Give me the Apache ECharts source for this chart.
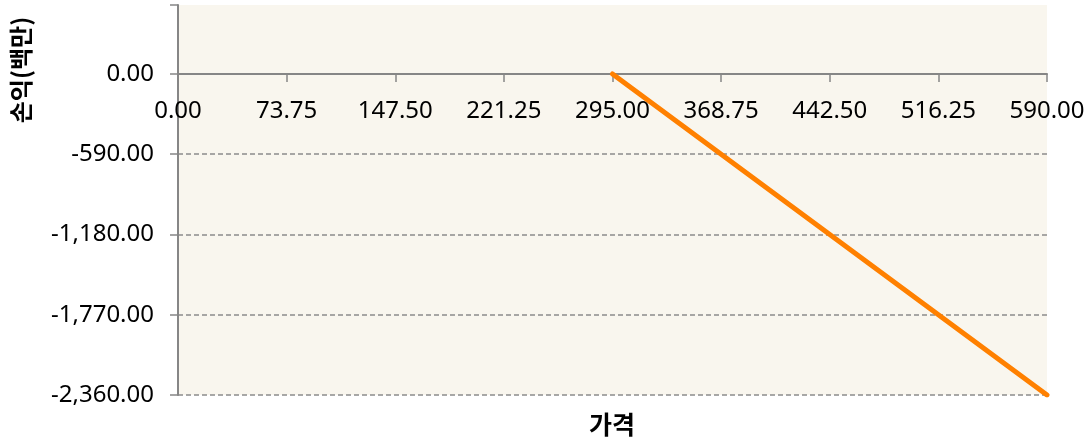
<!DOCTYPE html>
<html>
<head>
<meta charset="utf-8">
<script src="https://cdn.jsdelivr.net/npm/echarts@6/dist/echarts.min.js"></script>
<style>
html,body{margin:0;padding:0;background:#fff;}
#chart{width:1090px;height:448px;}
</style>
</head>
<body>
<div id="chart"></div>
<script>
// Data
var priceValues = [295, 368.75, 442.5, 516.25, 590];
var profitValues = [0, -590, -1180, -1770, -2360];
var xAxisTitle = '가격';
var yAxisTitle = '손익(백만)';
var xMin = 0, xMax = 590, xStep = 73.75;
var yMin = -2360, yMax = 507, yStep = 590;

var seriesData = priceValues.map(function (p, i) { return [p, profitValues[i]]; });

function fmt2(v) {
  return Number(v).toLocaleString('en-US', {minimumFractionDigits: 2, maximumFractionDigits: 2});
}

var numFont = '"Noto Sans", "DejaVu Sans", sans-serif';
var cjkFont = '"Noto Sans CJK KR", "Noto Sans", sans-serif';

var gridTop = 5, gridBottom = 53, chartH = 448;
var plotH = chartH - gridTop - gridBottom;
var zeroFromBottom = plotH * (0 - yMin) / (yMax - yMin);

var gray = '#8C8C8C';
var chart = echarts.init(document.getElementById('chart'));
chart.setOption({
  animation: false,
  backgroundColor: '#ffffff',
  grid: {
    left: 178, right: 43, top: gridTop, bottom: gridBottom,
    show: true, backgroundColor: '#F9F6EE', borderWidth: 0
  },
  xAxis: {
    type: 'value', min: xMin, max: xMax, interval: xStep,
    position: 'bottom', offset: -zeroFromBottom,
    axisLine: {show: true, onZero: false, lineStyle: {color: '#868686', width: 2}},
    axisTick: {show: true, inside: false, length: 8, lineStyle: {color: '#868686', width: 1.5}},
    axisLabel: {
      color: '#000', fontSize: 24, fontFamily: numFont, margin: 25,
      formatter: function (v) { return fmt2(v); }
    },
    splitLine: {show: false}
  },
  yAxis: {
    type: 'value', min: yMin, max: yMax, interval: yStep,
    axisLine: {show: true, onZero: false, lineStyle: {color: '#868686', width: 2}},
    axisTick: {show: true, inside: false, length: 8, lineStyle: {color: '#868686', width: 1.5}},
    axisLabel: {
      color: '#000', fontSize: 24, fontFamily: numFont, margin: 24,
      formatter: function (v) { return v >= yMax ? '' : fmt2(v); }
    },
    splitLine: {show: true, lineStyle: {color: [gray, gray, gray, gray, gray, 'rgba(0,0,0,0)'], width: 1.5, type: [5, 3]}}
  },
  series: [{
    type: 'line',
    data: seriesData,
    symbol: 'none',
    lineStyle: {color: '#FF8000', width: 5, cap: 'round', join: 'round'},
    z: 5
  }],
  graphic: [
    {
      type: 'text', x: 21, y: 70, rotation: Math.PI / 2,
      style: {
        text: yAxisTitle, fill: '#000', fontSize: 24, fontWeight: 'bold',
        fontFamily: cjkFont, align: 'center', verticalAlign: 'middle'
      }, z: 100
    },
    {
      type: 'text', x: 612, y: 424,
      style: {
        text: xAxisTitle, fill: '#000', fontSize: 25, fontWeight: 'bold',
        fontFamily: cjkFont, align: 'center', verticalAlign: 'middle'
      }, z: 100
    }
  ]
});
</script>
</body>
</html>
